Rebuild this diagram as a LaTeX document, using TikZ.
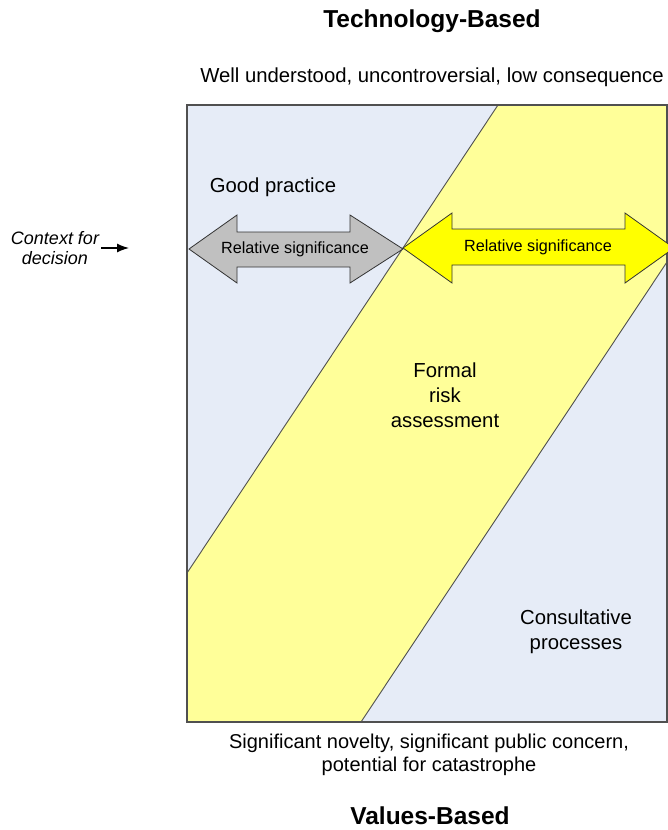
\documentclass[tikz,border=0pt]{standalone}
\usepackage{fontspec}
\setmainfont{Liberation Sans}
\usetikzlibrary{arrows.meta}
\definecolor{paleblue}{HTML}{E6ECF7}
\definecolor{bandyellow}{HTML}{FFFF99}
\definecolor{arrowgray}{HTML}{C0C0C0}
\definecolor{arrowyellow}{HTML}{FFFF00}
\definecolor{linegray}{HTML}{505050}
\begin{document}
\begin{tikzpicture}[x=1pt,y=-1pt,
  frame/.style={draw=linegray,line width=1.1pt},
  bandline/.style={draw=linegray,line width=0.9pt},
  bigarrow/.style={draw=black!80,line width=0.8pt,line join=miter},
  maintext/.style={font=\fontsize{20.3}{25}\selectfont,align=center,inner sep=0pt},
  arrowtext/.style={font=\fontsize{16.2}{18}\selectfont,inner sep=0pt},
  titletext/.style={font=\fontsize{24.5}{28}\selectfont\bfseries,inner sep=0pt}]
\useasboundingbox (0,0) rectangle (667,830);
% regions
\fill[paleblue] (187,105) rectangle (667,722);
\fill[bandyellow] (187,573) -- (498,105) -- (667,105) -- (667,262) -- (361,722) -- (187,722) -- cycle;
\draw[bandline] (187,573) -- (498,105);
\draw[bandline] (361,722) -- (667,262);
\draw[frame] (187,105) rectangle (667,722);
% arrows
\draw[bigarrow,fill=arrowgray] (189,249) -- (237,215) -- (237,232) -- (350,232) -- (350,215) -- (403,249) -- (350,283) -- (350,267) -- (237,267) -- (237,283) -- cycle;
\draw[bigarrow,fill=arrowyellow] (403,248) -- (452,213) -- (452,229) -- (625,229) -- (625,213) -- (674,248) -- (625,283) -- (625,265) -- (452,265) -- (452,283) -- cycle;
\node[arrowtext] (relg) at (295,249) {Relative significance};
\node[arrowtext] (rely) at (538,247) {Relative significance};
% texts
\node[titletext] (tech) at (432,21) {Technology-Based};
\node[maintext] (well) at (432,77) {Well understood, uncontroversial, low consequence};
\node[maintext] (good) at (273,187) {Good practice};
\node[maintext] (formal) at (445,395) {Formal\\risk\\assessment};
\node[maintext] (consult) at (576,632) {Consultative\\processes};
\node[maintext,font=\fontsize{20}{23}\selectfont] (signif) at (429,755) {Significant novelty, significant public concern,\\potential for catastrophe};
\node[titletext] (values) at (430,816) {Values-Based};
\node[font=\fontsize{18}{20}\selectfont\itshape,align=center,inner sep=0pt] (context) at (55,248) {Context for\\decision};
\coordinate (ctxend) at (129,248);
\draw[-{Latex[length=12pt,width=9pt]},line width=1.3pt] (101,248) -- (ctxend);
\end{tikzpicture}
\end{document}
